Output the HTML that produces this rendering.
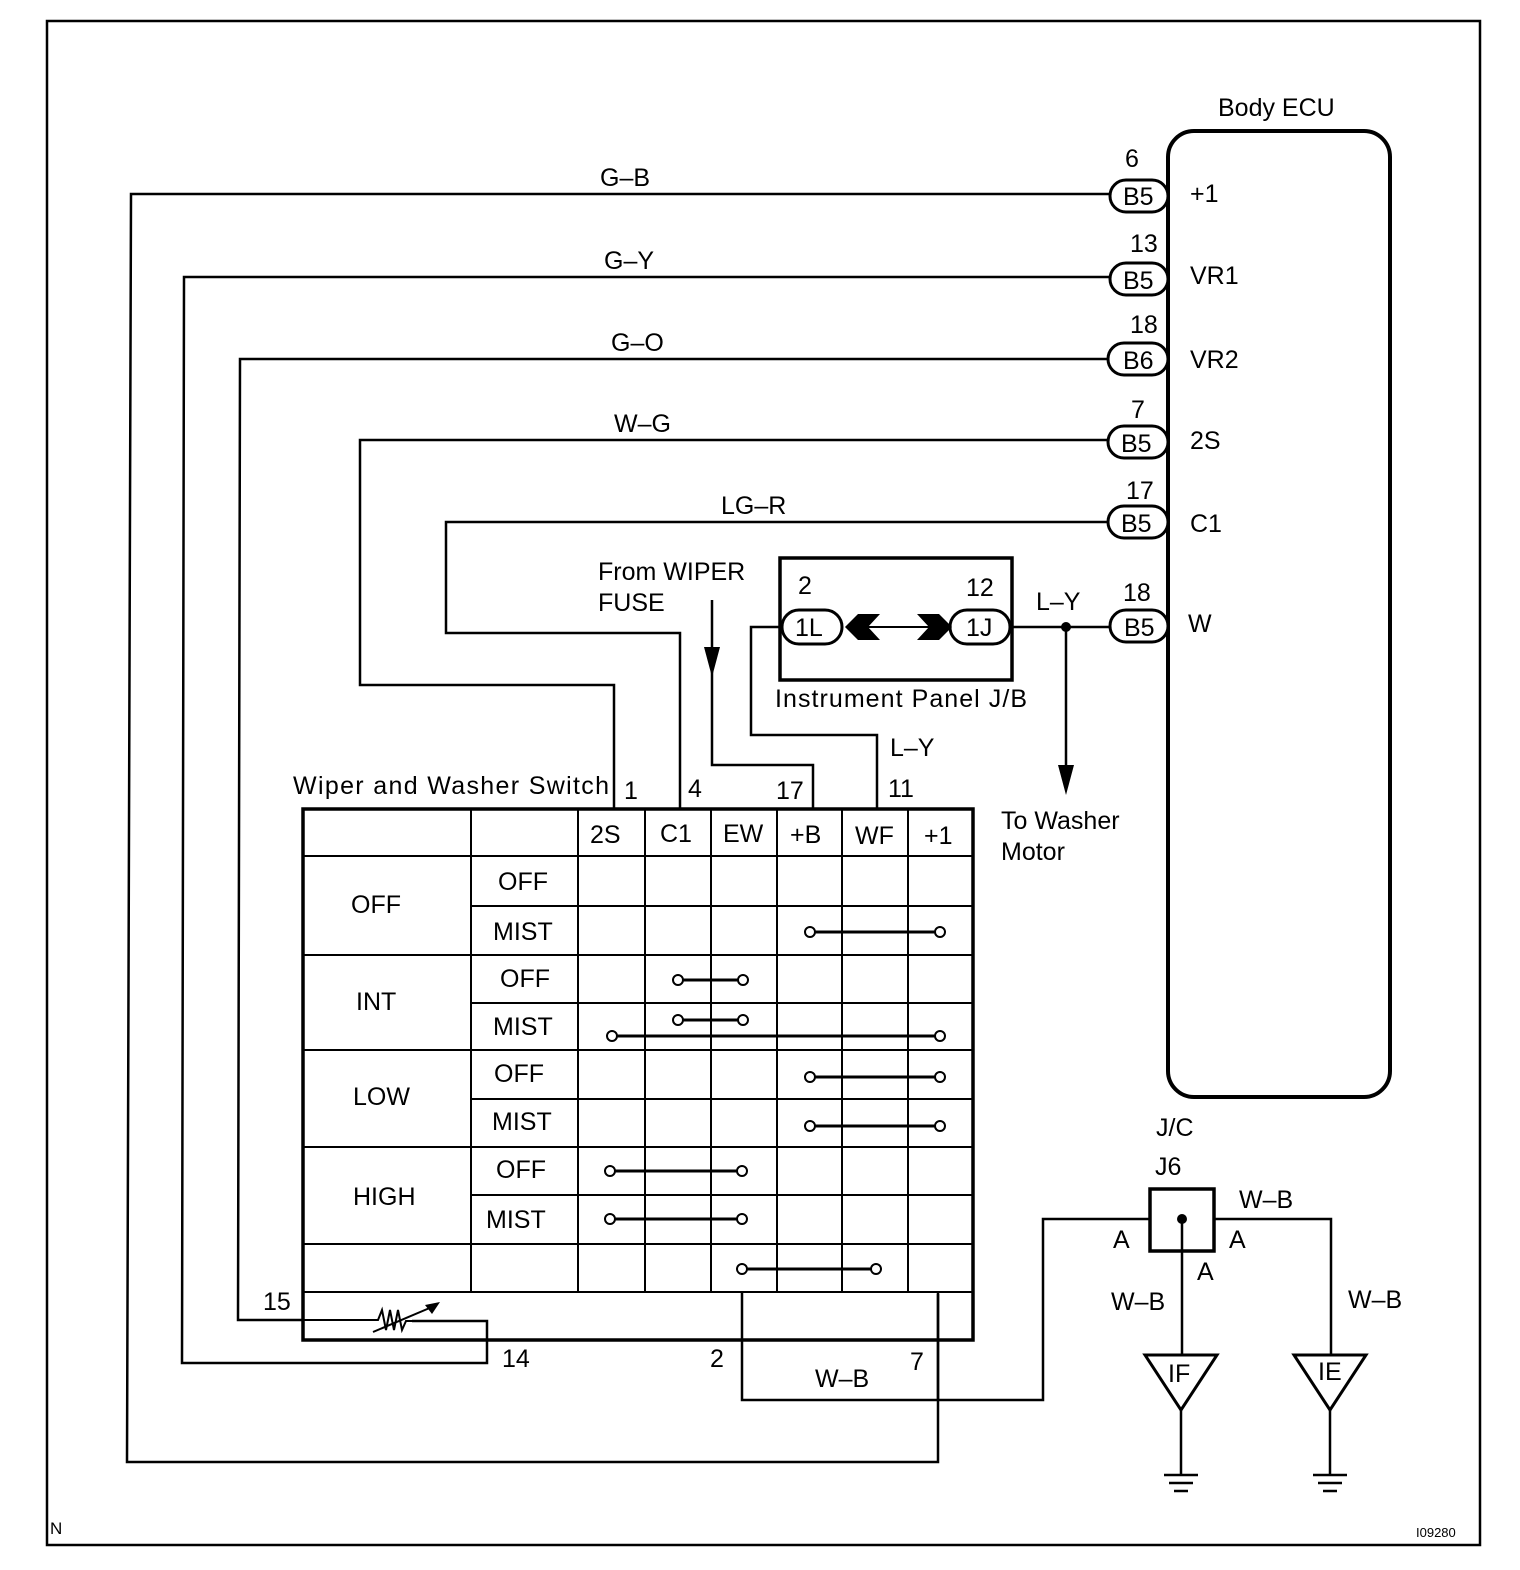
<!DOCTYPE html>
<html><head><meta charset="utf-8"><style>
html,body{margin:0;padding:0;background:#fff;}
svg{display:block;}
text{font-family:"Liberation Sans",sans-serif;font-size:25px;fill:#000;}
</style></head><body>
<svg width="1520" height="1570" viewBox="0 0 1520 1570" xmlns="http://www.w3.org/2000/svg">
<g fill="none" stroke="#000" stroke-width="2.5">
<rect x="47" y="21" width="1433" height="1524" stroke-width="2.5"/>
<rect x="1168" y="131" width="222" height="966" rx="26" stroke-width="4"/>
<polyline points="1110,194 131,194 127,1462 938,1462 938,1294"/>
<polyline points="1110,277 184,277 182,1363 487,1363 487,1321 412,1321"/>
<polyline points="1110,359 240,359 238,1320 302,1320"/>
<polyline points="1110,440 360,440 360,685 614,685 614,808"/>
<polyline points="1110,522 446,522 446,633 680,633 680,808"/>
<polyline points="712,600 712,765 813,765 813,808"/>
<polyline points="782,627 751,627 751,735 877,735 877,808"/>
<line x1="1012" y1="627" x2="1110" y2="627"/>
<line x1="1066" y1="627" x2="1066" y2="770"/>
<line x1="850" y1="627" x2="945" y2="627" stroke-width="2"/>
<rect x="780" y="558" width="232" height="122" stroke-width="3.5"/>
<rect x="303" y="809" width="670" height="531" stroke-width="3.5"/>
<path d="M471 809V1292 M578 809V1292 M645 809V1292 M711 809V1292 M777 809V1292 M842 809V1292 M908 809V1292 M973 809V1340" stroke-width="2"/>
<path d="M303 856H973 M471 906H973 M303 955H973 M471 1003H973 M303 1050H973 M471 1099H973 M303 1147H973 M471 1195H973 M303 1244H973 M303 1292H973" stroke-width="2"/>
<g stroke-width="3">
<line x1="810" y1="932" x2="940" y2="932"/>
<line x1="678" y1="980" x2="743" y2="980"/>
<line x1="678" y1="1020" x2="743" y2="1020"/>
<line x1="612" y1="1036" x2="940" y2="1036"/>
<line x1="810" y1="1077" x2="940" y2="1077"/>
<line x1="810" y1="1126" x2="940" y2="1126"/>
<line x1="610" y1="1171" x2="742" y2="1171"/>
<line x1="610" y1="1219" x2="742" y2="1219"/>
<line x1="742" y1="1269" x2="876" y2="1269"/>
</g>
<g fill="#fff" stroke-width="2">
<circle cx="810" cy="932" r="5"/><circle cx="940" cy="932" r="5"/>
<circle cx="678" cy="980" r="5"/><circle cx="743" cy="980" r="5"/>
<circle cx="678" cy="1020" r="5"/><circle cx="743" cy="1020" r="5"/>
<circle cx="612" cy="1036" r="5"/><circle cx="940" cy="1036" r="5"/>
<circle cx="810" cy="1077" r="5"/><circle cx="940" cy="1077" r="5"/>
<circle cx="810" cy="1126" r="5"/><circle cx="940" cy="1126" r="5"/>
<circle cx="610" cy="1171" r="5"/><circle cx="742" cy="1171" r="5"/>
<circle cx="610" cy="1219" r="5"/><circle cx="742" cy="1219" r="5"/>
<circle cx="742" cy="1269" r="5"/><circle cx="876" cy="1269" r="5"/>
</g>
<polyline points="302,1320 378,1320 382,1310 386,1330 390,1310 394,1330 398,1310 402,1330 406,1321 412,1321" stroke-width="2"/>
<line x1="373" y1="1332" x2="432" y2="1307" stroke-width="2"/>
<polyline points="742,1292 742,1400 1043,1400 1043,1219 1150,1219"/>
<line x1="938" y1="1292" x2="938" y2="1400"/>
<rect x="1150" y="1189" width="64" height="62" stroke-width="3.5"/>
<polyline points="1182,1219 1182,1355"/>
<polyline points="1214,1219 1331,1219 1331,1355"/>
<polygon points="1145,1355 1217,1355 1181,1410" stroke-width="3"/>
<polygon points="1294,1355 1366,1355 1330,1410" stroke-width="3"/>
<path d="M1181 1410V1475 M1164 1475H1198 M1169 1483H1193 M1174 1491H1188"/>
<path d="M1330 1410V1475 M1313 1475H1347 M1318 1483H1342 M1323 1491H1337"/>
<g stroke-width="3" fill="#fff">
<rect x="1110" y="180" width="58" height="32" rx="16"/>
<rect x="1110" y="263" width="58" height="32" rx="16"/>
<rect x="1108" y="343" width="60" height="32" rx="16"/>
<rect x="1108" y="426" width="60" height="32" rx="16"/>
<rect x="1108" y="506" width="60" height="32" rx="16"/>
<rect x="1110" y="610" width="58" height="32" rx="16"/>
<rect x="782" y="610" width="60" height="34" rx="17"/>
<rect x="950" y="610" width="60" height="34" rx="17"/>
</g>
</g>
<circle cx="1066" cy="627" r="5" fill="#000"/>
<circle cx="1182" cy="1219" r="5" fill="#000"/>
<polygon points="1058,765 1074,765 1066,795" fill="#000"/>
<polygon points="704,647 720,647 712,677" fill="#000"/>
<polygon points="845,627 858,614 880,614 868,627 880,640 858,640" fill="#000"/>
<polygon points="952,627 939,614 917,614 929,627 917,640 939,640" fill="#000"/>
<polygon points="425,1305 440,1302 432,1314" fill="#000"/>
<text x="1218" y="116">Body ECU</text>
<text x="1125" y="167">6</text><text x="1123" y="205">B5</text><text x="1190" y="202">+1</text>
<text x="1130" y="252">13</text><text x="1123" y="289">B5</text><text x="1190" y="284">VR1</text>
<text x="1130" y="333">18</text><text x="1123" y="369">B6</text><text x="1190" y="368">VR2</text>
<text x="1131" y="418">7</text><text x="1121" y="452">B5</text><text x="1190" y="449">2S</text>
<text x="1126" y="499">17</text><text x="1121" y="532">B5</text><text x="1190" y="532">C1</text>
<text x="1123" y="601">18</text><text x="1124" y="636">B5</text><text x="1188" y="632">W</text>
<text x="600" y="186">G–B</text><text x="604" y="269">G–Y</text><text x="611" y="351">G–O</text>
<text x="614" y="432">W–G</text><text x="721" y="514">LG–R</text>
<text x="598" y="580">From WIPER</text><text x="598" y="611">FUSE</text>
<text x="798" y="594">2</text><text x="966" y="596">12</text>
<text x="795" y="636">1L</text><text x="966" y="636">1J</text>
<text x="1036" y="610">L–Y</text>
<text x="775" y="707" textLength="252">Instrument Panel J/B</text>
<text x="890" y="756">L–Y</text>
<text x="1001" y="829">To Washer</text><text x="1001" y="860">Motor</text>
<text x="293" y="794" textLength="316">Wiper and Washer Switch</text>
<text x="624" y="799">1</text><text x="688" y="797">4</text><text x="776" y="799">17</text><text x="888" y="797">11</text>
<text x="590" y="843">2S</text><text x="660" y="842">C1</text><text x="723" y="842">EW</text><text x="790" y="843">+B</text><text x="855" y="844">WF</text><text x="924" y="844">+1</text>
<text x="351" y="913">OFF</text><text x="498" y="890">OFF</text><text x="493" y="940">MIST</text>
<text x="356" y="1010">INT</text><text x="500" y="987">OFF</text><text x="493" y="1035">MIST</text>
<text x="353" y="1105">LOW</text><text x="494" y="1082">OFF</text><text x="492" y="1130">MIST</text>
<text x="353" y="1205">HIGH</text><text x="496" y="1178">OFF</text><text x="486" y="1228">MIST</text>
<text x="263" y="1310">15</text><text x="502" y="1367">14</text><text x="710" y="1367">2</text><text x="910" y="1370">7</text>
<text x="815" y="1387">W–B</text>
<text x="1156" y="1136">J/C</text><text x="1155" y="1175">J6</text>
<text x="1239" y="1208">W–B</text>
<text x="1113" y="1248">A</text><text x="1229" y="1248">A</text><text x="1197" y="1280">A</text>
<text x="1111" y="1310">W–B</text><text x="1348" y="1308">W–B</text>
<text x="1168" y="1382">IF</text><text x="1318" y="1380">IE</text>
<text x="50" y="1534" style="font-size:17px">N</text>
<text x="1416" y="1537" style="font-size:13px">I09280</text>
</svg>
</body></html>
